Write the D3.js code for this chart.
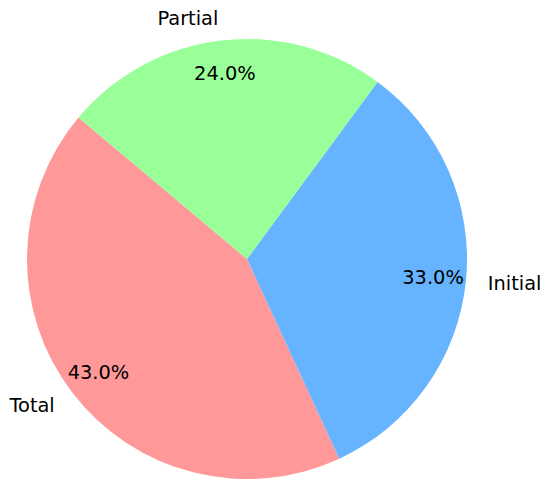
<!DOCTYPE html>
<html>
<head>
<meta charset="utf-8">
<script src="https://cdn.jsdelivr.net/npm/d3@7"></script>
<style>
  html, body { margin: 0; padding: 0; background: #fff; }
  svg { display: block; }
  text { font-family: "DejaVu Sans", sans-serif; }
</style>
</head>
<body>
<svg id="chart" width="550" height="490"></svg>
<script>
const categories = ["Total", "Initial", "Partial"];
const values = [43, 33, 24];
const colors = ["#ff9999", "#66b3ff", "#99ff99"];

const W = 550, H = 490;
const cx = 247, cy = 259, R = 220;
const startDeg = 140; // matplotlib-style start angle, counterclockwise

const svg = d3.select("#chart");
const g = svg.append("g").attr("transform", `translate(${cx},${cy})`);

const rad = d => d * Math.PI / 180;
const d3Start = rad(90 - startDeg);
const pie = d3.pie().sort(null).value(d => d.v)
  .startAngle(d3Start).endAngle(d3Start - 2 * Math.PI);

const data = categories.map((c, i) => ({ c, v: values[i], col: colors[i] }));
const arcs = pie(data);
const total = d3.sum(values);

const arc = d3.arc().innerRadius(0).outerRadius(R);
g.selectAll("path.slice").data(arcs).join("path")
  .attr("class", "slice")
  .attr("d", arc)
  .attr("fill", d => d.data.col);

const labelArc = d3.arc().innerRadius(R * 1.1).outerRadius(R * 1.1);
const pctArc = d3.arc().innerRadius(R * 0.85).outerRadius(R * 0.85);

g.selectAll("text.lbl").data(arcs).join("text")
  .attr("class", "lbl")
  .attr("x", d => labelArc.centroid(d)[0])
  .attr("y", d => labelArc.centroid(d)[1])
  .attr("text-anchor", d => labelArc.centroid(d)[0] < 0 ? "end" : "start")
  .attr("dominant-baseline", "central")
  .attr("font-size", "19.4px")
  .attr("fill", "#000")
  .text(d => d.data.c);

g.selectAll("text.pct").data(arcs).join("text")
  .attr("class", "pct")
  .attr("x", d => pctArc.centroid(d)[0])
  .attr("y", d => pctArc.centroid(d)[1])
  .attr("text-anchor", "middle")
  .attr("dominant-baseline", "central")
  .attr("font-size", "19.4px")
  .attr("fill", "#000")
  .text(d => (d.data.v / total * 100).toFixed(1) + "%");
</script>
</body>
</html>
